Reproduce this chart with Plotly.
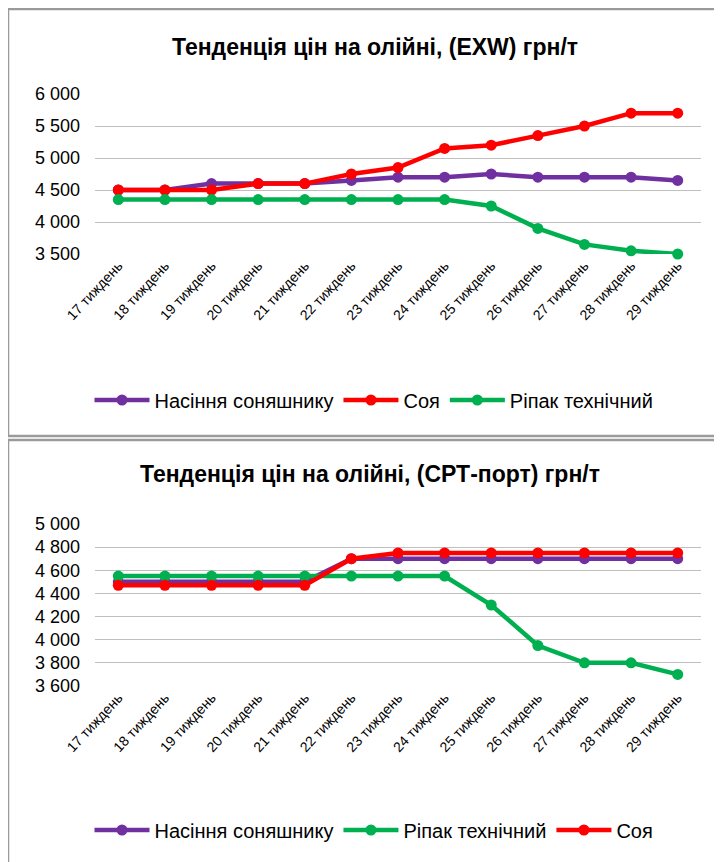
import plotly.graph_objects as go

# page body adds an 8px margin; the figure is sized and positioned to compensate
OFF = 8
W, H = 722 - OFF, 862 - OFF

weeks = [f"{n} тиждень" for n in range(17, 30)]

# Top chart (EXW)
exw_title = "Тенденція цін на олійні, (EXW) грн/т"
exw_sunflower = [4500, 4500, 4600, 4600, 4600, 4650, 4700, 4700, 4750, 4700, 4700, 4700, 4650]
exw_soy = [4500, 4500, 4500, 4600, 4600, 4750, 4850, 5150, 5200, 5350, 5500, 5700, 5700]
exw_rapeseed = [4350, 4350, 4350, 4350, 4350, 4350, 4350, 4350, 4250, 3900, 3650, 3550, 3500]

# Bottom chart (CPT-port)
cpt_title = "Тенденція цін на олійні, (СРТ-порт) грн/т"
cpt_sunflower = [4500, 4500, 4500, 4500, 4500, 4700, 4700, 4700, 4700, 4700, 4700, 4700, 4700]
cpt_rapeseed = [4550, 4550, 4550, 4550, 4550, 4550, 4550, 4550, 4300, 3950, 3800, 3800, 3700]
cpt_soy = [4470, 4470, 4470, 4470, 4470, 4700, 4750, 4750, 4750, 4750, 4750, 4750, 4750]

names = {"sun": "Насіння соняшнику", "soy": "Соя", "rape": "Ріпак технічний"}
colors = {"sun": "#7030A0", "soy": "#FF0000", "rape": "#00B050"}

FONT = "Liberation Sans Narrow, Arial Narrow, Liberation Sans, sans-serif"

def px(x):
    return (x - OFF) / W

def py(y):
    return 1 - (y - OFF) / H

fig = go.Figure()

def add(x, y, key, xa, ya, leg):
    fig.add_trace(go.Scatter(
        x=x, y=y, name=names[key], mode="lines+markers",
        line=dict(color=colors[key], width=4.5),
        marker=dict(color=colors[key], size=11),
        xaxis=xa, yaxis=ya, legend=leg, cliponaxis=False,
    ))

add(weeks, exw_sunflower, "sun", "x", "y", "legend")
add(weeks, exw_soy, "soy", "x", "y", "legend")
add(weeks, exw_rapeseed, "rape", "x", "y", "legend")

add(weeks, cpt_sunflower, "sun", "x2", "y2", "legend2")
add(weeks, cpt_rapeseed, "rape", "x2", "y2", "legend2")
add(weeks, cpt_soy, "soy", "x2", "y2", "legend2")

xcommon = dict(tickangle=-47, showgrid=False, zeroline=False, showline=False,
               ticks="", tickfont=dict(size=14, color="#000", family=FONT),
               range=[-0.5, 12.5], fixedrange=True, automargin=False)
ycommon = dict(showgrid=True, gridcolor="#BFBFBF", gridwidth=1, zeroline=False,
               showline=False, ticks="", tickformat=",", automargin=False,
               tickfont=dict(size=18, color="#000", family=FONT), ticklabelstandoff=14)

fig.update_layout(
    width=W, height=H,
    margin=dict(l=0, r=0, t=0, b=0, pad=0),
    paper_bgcolor="white", plot_bgcolor="white",
    separators=", ",
    font=dict(family=FONT, color="#000"),
    xaxis=dict(domain=[px(95), px(701)], anchor="y", **xcommon),
    yaxis=dict(domain=[py(254), py(94)], anchor="x", range=[3500, 6000], dtick=500, **ycommon),
    xaxis2=dict(domain=[px(95), px(701)], anchor="y2", **xcommon),
    yaxis2=dict(domain=[py(686), py(524)], anchor="x2", range=[3600, 5000], dtick=200, **ycommon),
    legend=dict(orientation="h", x=px(374), xanchor="center", y=py(400), yanchor="middle",
                font=dict(size=20, family=FONT), itemwidth=55, bgcolor="rgba(0,0,0,0)",
                traceorder="normal"),
    legend2=dict(orientation="h", x=px(374), xanchor="center", y=py(830), yanchor="middle",
                 font=dict(size=20, family=FONT), itemwidth=55, bgcolor="rgba(0,0,0,0)",
                 traceorder="normal"),
    showlegend=True,
)

fig.add_annotation(text=f"<b>{exw_title}</b>", x=px(375), y=py(47), xref="paper", yref="paper",
                   xanchor="center", yanchor="middle",
                   showarrow=False, font=dict(size=23, family=FONT, color="#000"))
fig.add_annotation(text=f"<b>{cpt_title}</b>", x=px(370), y=py(474), xref="paper", yref="paper",
                   xanchor="center", yanchor="middle",
                   showarrow=False, font=dict(size=23, family=FONT, color="#000"))

border = dict(color="#9A9A9A", width=2.5)
fig.add_shape(type="rect", xref="paper", yref="paper", x0=px(8), x1=px(760), y0=py(436), y1=py(9),
              line=border, layer="below")
fig.add_shape(type="rect", xref="paper", yref="paper", x0=px(8), x1=px(760), y0=py(900), y1=py(440),
              line=border, layer="below")

fig.write_html("out.html")
